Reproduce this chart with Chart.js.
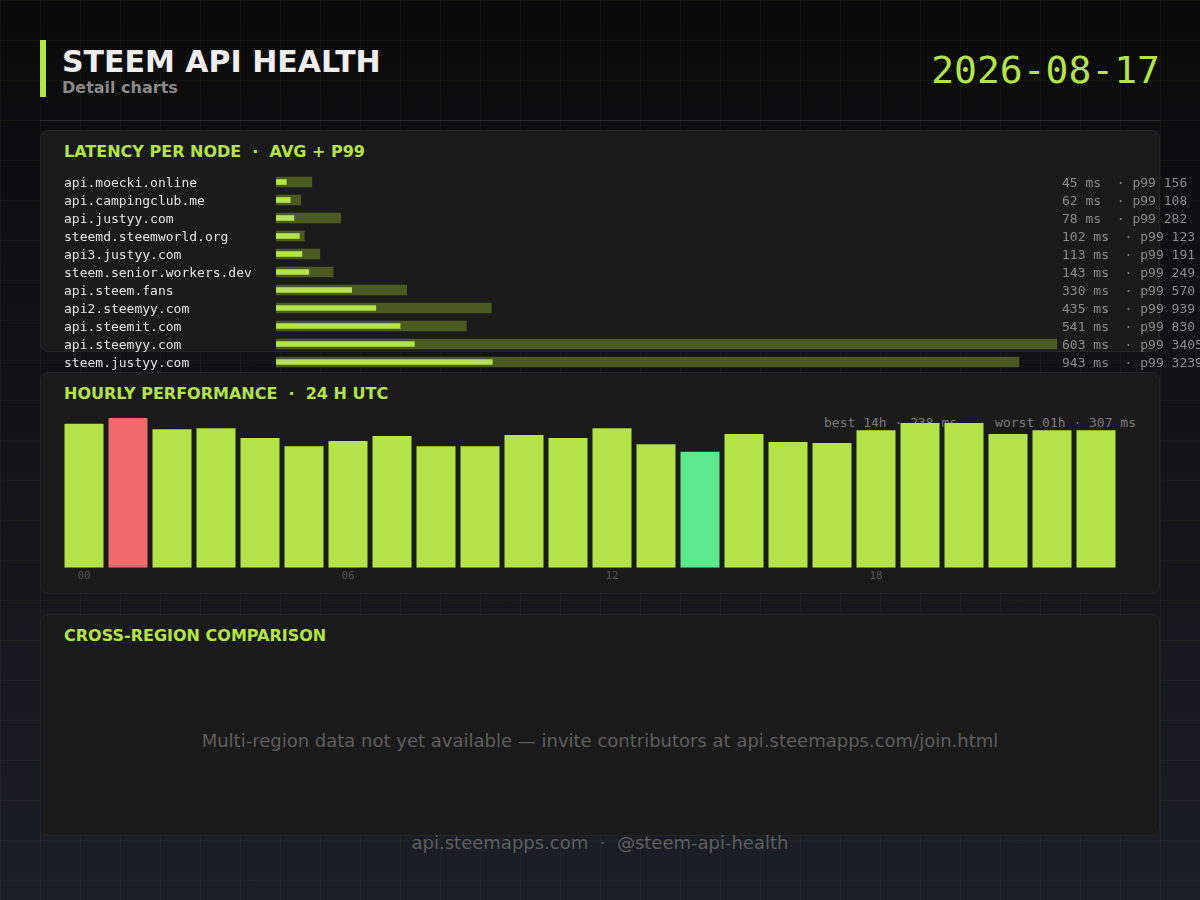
<!DOCTYPE html>
<html>
<head>
<meta charset="utf-8">
<script src="https://cdn.jsdelivr.net/npm/chart.js@4/dist/chart.umd.min.js"></script>
<style>
html, body { margin: 0; padding: 0; width: 1200px; height: 900px; overflow: hidden; }
body {
    position: relative;
    font-family: 'DejaVu Sans', sans-serif;
    background-color: #121419;
    background-image:
        linear-gradient(rgba(181,227,74,0.035) 1px, transparent 1px),
        linear-gradient(90deg, rgba(181,227,74,0.035) 1px, transparent 1px),
        linear-gradient(180deg, #0a0a0a 0%, #1a1e26 100%);
    background-size: 40px 40px, 40px 40px, 100% 100%;
}
.abs { position: absolute; }
.accent { left: 40px; top: 40px; width: 6px; height: 57px; background: #b5e34a; }
.title { left: 62px; top: 45px; font-size: 30px; line-height: 34px; font-weight: bold; color: #eeeeee; }
.subtitle { left: 62px; top: 78px; font-size: 16px; line-height: 20px; font-weight: bold; color: #8a8a8a; }
.date { right: 40px; top: 48px; font-family: 'DejaVu Sans Mono', monospace; font-size: 38px; line-height: 44px; color: #b5e34a; }
.sep { left: 40px; top: 120px; width: 1120px; height: 1px; background: #2a2a2a; }
.panel { left: 40px; width: 1120px; height: 222px; box-sizing: border-box; background: #1a1a1a; border: 1px solid #262626; border-radius: 8px; }
.ptitle { left: 64px; font-size: 16px; line-height: 20px; font-weight: bold; color: #b5e34a; white-space: pre; }
.stats { top: 415px; right: 64px; font-family: 'DejaVu Sans Mono', monospace; font-size: 13px; line-height: 16px; color: #7a7a7a; white-space: pre; }
.stats span + span { margin-left: 38px; }
.empty { left: 40px; width: 1120px; top: 729px; text-align: center; font-size: 18px; line-height: 24px; color: #5e5e5e; }
.footer { left: 0; width: 1200px; top: 831px; text-align: center; font-size: 18px; line-height: 24px; color: #5e5e5e; white-space: pre; }
#latencyWrap { left: 64px; top: 173px; width: 1146px; height: 198px; }
#hourlyWrap { left: 61.5px; top: 418px; width: 1056px; height: 167px; }
</style>
</head>
<body>

<div class="abs accent"></div>
<div class="abs title">STEEM API HEALTH</div>
<div class="abs subtitle">Detail charts</div>
<div class="abs date">2026-08-17</div>
<div class="abs sep"></div>

<div class="abs panel" style="top:130px"></div>
<div class="abs ptitle" style="top:142px">LATENCY PER NODE  ·  AVG + P99</div>

<div class="abs panel" style="top:372px"></div>
<div class="abs ptitle" style="top:384px">HOURLY PERFORMANCE  ·  24 H UTC</div>
<div class="abs stats" id="stats"></div>

<div class="abs panel" style="top:614px"></div>
<div class="abs ptitle" style="top:626px">CROSS-REGION COMPARISON</div>
<div class="abs empty">Multi-region data not yet available — invite contributors at api.steemapps.com/join.html</div>

<div class="abs footer">api.steemapps.com  ·  @steem-api-health</div>

<div class="abs" id="latencyWrap"><canvas id="latencyChart"></canvas></div>
<div class="abs" id="hourlyWrap"><canvas id="hourlyChart"></canvas></div>

<script>
"use strict";

// latency per node (ms)
const nodes = ['api.moecki.online', 'api.campingclub.me', 'api.justyy.com', 'steemd.steemworld.org', 'api3.justyy.com',
    'steem.senior.workers.dev', 'api.steem.fans', 'api2.steemyy.com', 'api.steemit.com', 'api.steemyy.com', 'steem.justyy.com'];
const avgMs = [45, 62, 78, 102, 113, 143, 330, 435, 541, 603, 943];
const p99Ms = [156, 108, 282, 123, 191, 249, 570, 939, 830, 3405, 3239];

// hourly average (ms), 00..23 UTC
const hours = ['00', '01', '02', '03', '04', '05', '06', '07', '08', '09', '10', '11',
    '12', '13', '14', '15', '16', '17', '18', '19', '20', '21', '22', '23'];
const hourlyMs = [295, 307, 284, 286, 266, 249, 260, 270, 249, 249, 272, 266,
    286, 253, 238, 274, 258, 256, 282, 297, 297, 274, 282, 282];

const LIME = '#b5e34a';
const TRACK = '#4b5a20';
const RED = '#ef6b6b';
const GREEN = '#5de88c';

Chart.defaults.font.family = "'DejaVu Sans Mono', monospace";
Chart.defaults.animation = false;

const rightLabels = nodes.map((n, i) => `${avgMs[i]} ms  · p99 ${p99Ms[i]}`);

// fixed column widths, no extra padding for half labels
const fixWidth = (w) => (s) => { s.width = w; s.paddingTop = 0; s.paddingBottom = 0; };

new Chart(document.getElementById('latencyChart'), {
    type: 'bar',
    data: {
        labels: nodes,
        datasets: [
            { data: avgMs, backgroundColor: LIME, barThickness: 5, grouped: false, order: 1 },
            { data: p99Ms, backgroundColor: TRACK, barThickness: 10, grouped: false, order: 2 },
        ]
    },
    options: {
        indexAxis: 'y',
        responsive: true,
        maintainAspectRatio: false,
        layout: { padding: 0 },
        plugins: { legend: { display: false }, tooltip: { enabled: false } },
        scales: {
            x: { display: false, min: 0, max: Math.max(...p99Ms) },
            y: {
                offset: true,
                grid: { display: false, drawTicks: false },
                border: { display: false },
                ticks: { color: '#e4e4e4', font: { size: 13 }, crossAlign: 'far', padding: 0, labelOffset: 2, autoSkip: false },
                afterFit: fixWidth(212)
            },
            y2: {
                type: 'category',
                position: 'right',
                labels: rightLabels,
                offset: true,
                grid: { display: false, drawTicks: false },
                border: { display: false },
                ticks: { color: '#8a8a8a', font: { size: 13 }, crossAlign: 'near', padding: 5, labelOffset: 2, autoSkip: false },
                afterFit: fixWidth(153)
            }
        }
    }
});

const best = hourlyMs.indexOf(Math.min(...hourlyMs));
const worst = hourlyMs.indexOf(Math.max(...hourlyMs));
document.getElementById('stats').innerHTML =
    `<span>best ${hours[best]}h · ${hourlyMs[best]} ms</span><span>worst ${hours[worst]}h · ${hourlyMs[worst]} ms</span>`;

new Chart(document.getElementById('hourlyChart'), {
    type: 'bar',
    data: {
        labels: hours,
        datasets: [{
            data: hourlyMs,
            backgroundColor: hourlyMs.map((v, i) => i === best ? GREEN : (i === worst ? RED : LIME)),
            categoryPercentage: 1,
            barPercentage: 39 / 44,
        }]
    },
    options: {
        responsive: true,
        maintainAspectRatio: false,
        layout: { padding: 0 },
        plugins: { legend: { display: false }, tooltip: { enabled: false } },
        scales: {
            x: {
                grid: { display: false, drawTicks: false },
                border: { display: false },
                ticks: {
                    color: '#555',
                    font: { size: 11 },
                    padding: 2,
                    autoSkip: false,
                    maxRotation: 0,
                    callback: (v, i) => i % 6 === 0 ? hours[i] : ''
                }
            },
            y: { display: false, min: 0, max: Math.max(...hourlyMs) }
        }
    }
});
</script>
</body>
</html>
